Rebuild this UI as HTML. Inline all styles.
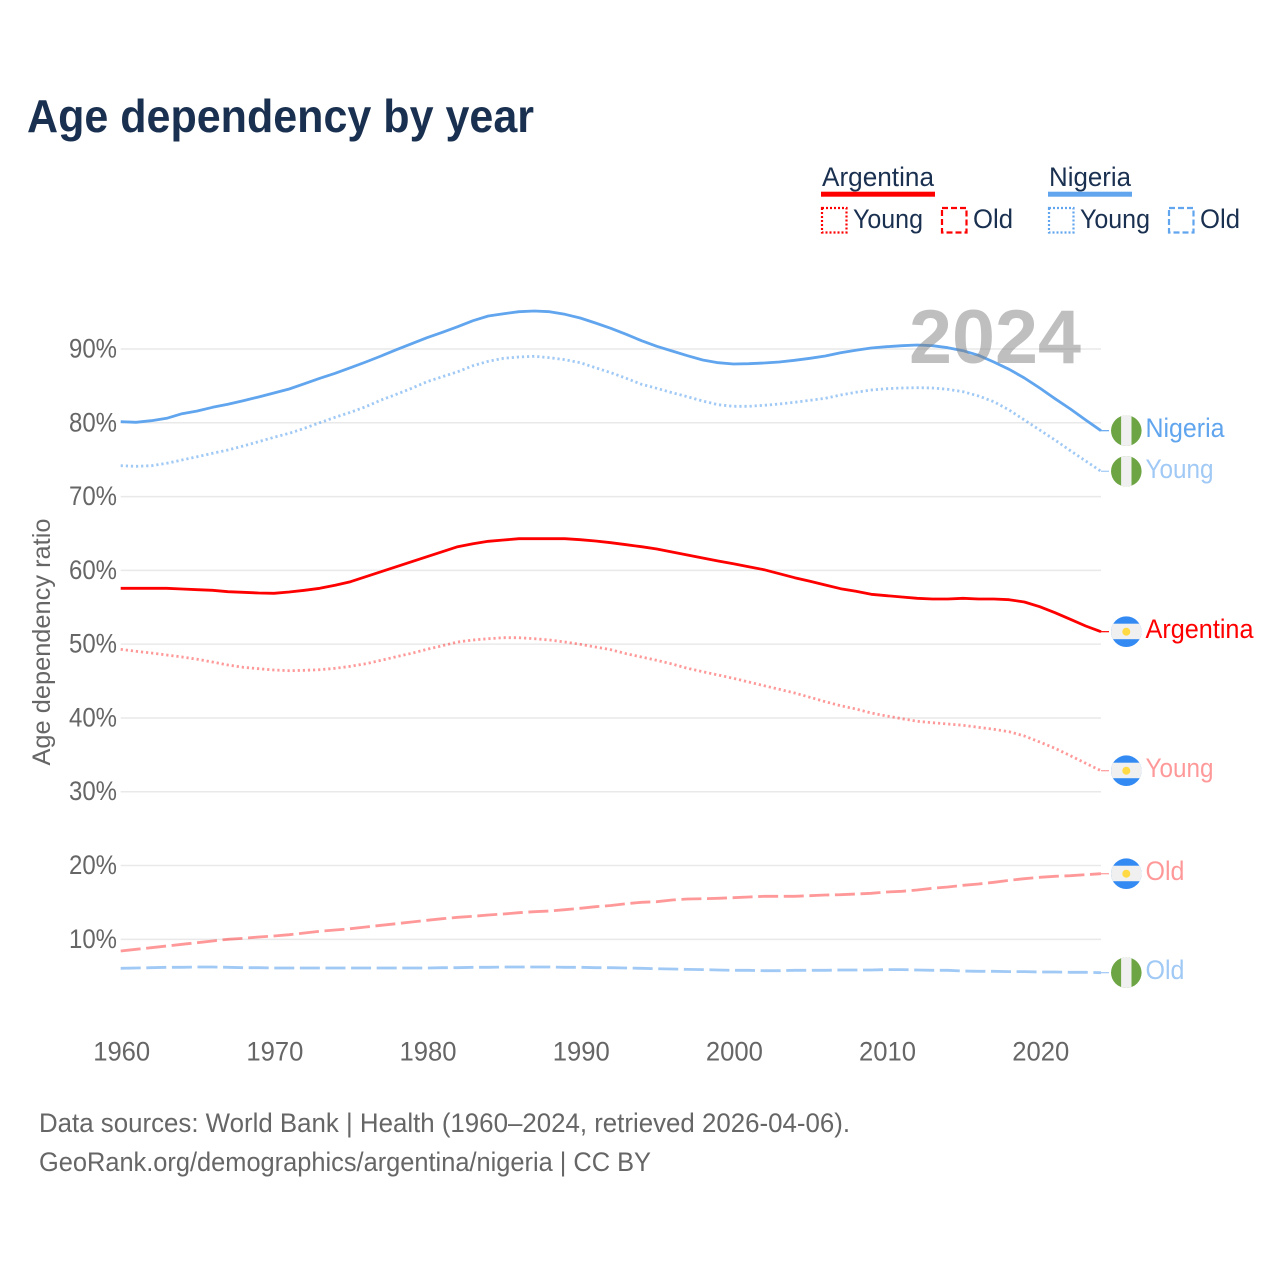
<!DOCTYPE html>
<html lang="en">
<head>
<meta charset="utf-8">
<title>Age dependency by year</title>
<style>
html,body{margin:0;padding:0;background:#fff;}
svg{display:block;}
text{font-family:"Liberation Sans",sans-serif;}
</style>
</head>
<body>
<svg id="chart" xmlns="http://www.w3.org/2000/svg" width="1280" height="1280" viewBox="0 0 1280 1280">
  <rect x="0" y="0" width="1280" height="1280" fill="#ffffff"/>
  <text x="27" y="132" font-size="46" font-weight="700" fill="#1a3050" textLength="507" lengthAdjust="spacingAndGlyphs">Age dependency by year</text>

  <g>
    <text x="822" y="186" font-size="27" fill="#1a3050" textLength="112" lengthAdjust="spacingAndGlyphs">Argentina</text>
    <rect x="821" y="191.7" width="114" height="5" fill="#ff0000"/>
    <rect x="822" y="208" width="24.5" height="24.5" fill="none" stroke="#ff0000" stroke-width="2.2" stroke-dasharray="2 2"/>
    <text x="853" y="228" font-size="27" fill="#1a3050" textLength="70" lengthAdjust="spacingAndGlyphs">Young</text>
    <rect x="942" y="208" width="24.5" height="24.5" fill="none" stroke="#ff0000" stroke-width="2.2" stroke-dasharray="6 3"/>
    <text x="973" y="228" font-size="27" fill="#1a3050" textLength="40" lengthAdjust="spacingAndGlyphs">Old</text>
    <text x="1049" y="186" font-size="27" fill="#1a3050" textLength="82" lengthAdjust="spacingAndGlyphs">Nigeria</text>
    <rect x="1048" y="191.7" width="84" height="5" fill="#60a5ee"/>
    <rect x="1049" y="208" width="24.5" height="24.5" fill="none" stroke="#60a5ee" stroke-width="2.2" stroke-dasharray="2 2"/>
    <text x="1080" y="228" font-size="27" fill="#1a3050" textLength="70" lengthAdjust="spacingAndGlyphs">Young</text>
    <rect x="1169" y="208" width="24.5" height="24.5" fill="none" stroke="#60a5ee" stroke-width="2.2" stroke-dasharray="6 3"/>
    <text x="1200" y="228" font-size="27" fill="#1a3050" textLength="40" lengthAdjust="spacingAndGlyphs">Old</text>
  </g>

  <text transform="translate(50,642) rotate(-90)" text-anchor="middle" font-size="25" fill="#666666" textLength="247" lengthAdjust="spacingAndGlyphs">Age dependency ratio</text>

  <g id="grid"></g>
  <g id="yticks"></g>
  <g id="xticks"></g>
  <g id="series"></g>

  <text x="909" y="363" font-size="76" font-weight="700" fill="#808080" fill-opacity="0.5" textLength="172" lengthAdjust="spacingAndGlyphs">2024</text>

  <g id="ends"></g>

  <text x="39" y="1132" font-size="26.5" fill="#666666" textLength="811" lengthAdjust="spacingAndGlyphs">Data sources: World Bank | Health (1960–2024, retrieved 2026-04-06).</text>
  <text x="39" y="1171" font-size="26.5" fill="#666666" textLength="612" lengthAdjust="spacingAndGlyphs">GeoRank.org/demographics/argentina/nigeria | CC BY</text>
</svg>

<script>
const startYear = 1960;
const xTickYears = [1960, 1970, 1980, 1990, 2000, 2010, 2020];
const yTickValues = [10, 20, 30, 40, 50, 60, 70, 80, 90];
const yTickLabels = ["10%", "20%", "30%", "40%", "50%", "60%", "70%", "80%", "90%"];

const nigeriaTotal = [
  80.15,80.07,80.28,80.61,81.23,81.60,82.10,82.51,82.99,83.50,
  84.04,84.58,85.30,86.03,86.71,87.47,88.24,89.05,89.91,90.72,
  91.53,92.26,93.02,93.84,94.47,94.78,95.05,95.15,95.05,94.70,
  94.20,93.52,92.81,91.99,91.12,90.37,89.73,89.09,88.51,88.14,
  87.97,88.01,88.10,88.24,88.47,88.74,89.05,89.50,89.82,90.14,
  90.31,90.45,90.54,90.45,90.18,89.77,89.15,88.24,87.25,86.07,
  84.71,83.26,81.87,80.38,78.93];
const nigeriaYoung = [
  74.18,74.10,74.18,74.51,74.96,75.40,75.87,76.31,76.85,77.44,
  78.03,78.58,79.25,80.01,80.74,81.42,82.18,83.09,83.86,84.67,
  85.57,86.25,86.92,87.74,88.33,88.74,88.92,89.01,88.82,88.55,
  88.14,87.47,86.79,86.03,85.22,84.67,84.08,83.54,82.95,82.45,
  82.23,82.23,82.37,82.55,82.78,83.05,83.32,83.77,84.13,84.44,
  84.62,84.71,84.76,84.71,84.54,84.21,83.63,82.86,81.73,80.38,
  79.02,77.67,76.22,74.82,73.43];
const nigeriaOld = [
  6.07,6.11,6.15,6.21,6.21,6.25,6.25,6.21,6.15,6.15,
  6.11,6.11,6.11,6.11,6.11,6.11,6.11,6.11,6.11,6.11,
  6.11,6.15,6.15,6.21,6.21,6.25,6.25,6.25,6.25,6.21,
  6.21,6.15,6.15,6.11,6.07,6.02,5.98,5.93,5.89,5.84,
  5.80,5.80,5.75,5.75,5.80,5.80,5.80,5.84,5.84,5.84,
  5.89,5.89,5.84,5.80,5.80,5.71,5.66,5.66,5.62,5.62,
  5.57,5.57,5.53,5.53,5.48];
const argentinaTotal = [
  57.57,57.57,57.57,57.57,57.48,57.38,57.30,57.11,57.03,56.93,
  56.89,57.07,57.30,57.57,57.98,58.46,59.14,59.82,60.50,61.17,
  61.85,62.53,63.21,63.61,63.94,64.12,64.29,64.29,64.29,64.29,
  64.16,63.98,63.75,63.48,63.21,62.90,62.49,62.08,61.68,61.27,
  60.90,60.50,60.09,59.55,59.01,58.52,58.02,57.52,57.16,56.76,
  56.57,56.39,56.22,56.12,56.12,56.22,56.12,56.12,56.03,55.71,
  55.08,54.26,53.37,52.46,51.69];
const argentinaYoung = [
  49.30,49.03,48.80,48.53,48.26,47.95,47.58,47.18,46.86,46.67,
  46.50,46.40,46.46,46.54,46.73,47.00,47.35,47.81,48.30,48.76,
  49.30,49.79,50.29,50.56,50.74,50.88,50.88,50.74,50.56,50.29,
  49.98,49.61,49.25,48.71,48.26,47.81,47.31,46.73,46.27,45.82,
  45.37,44.87,44.37,43.88,43.38,42.80,42.20,41.66,41.21,40.67,
  40.26,39.90,39.55,39.36,39.18,39.00,38.73,38.46,38.14,37.55,
  36.74,35.89,34.88,33.85,32.85];
const argentinaOld = [
  8.42,8.65,8.86,9.09,9.32,9.54,9.77,10.00,10.14,10.31,
  10.45,10.63,10.86,11.09,11.26,11.44,11.67,11.90,12.12,12.35,
  12.58,12.80,12.98,13.12,13.30,13.43,13.61,13.74,13.84,14.01,
  14.20,14.42,14.59,14.83,15.02,15.10,15.33,15.46,15.51,15.56,
  15.64,15.74,15.83,15.83,15.83,15.91,16.01,16.05,16.14,16.24,
  16.41,16.51,16.68,16.91,17.09,17.32,17.50,17.73,18.00,18.21,
  18.41,18.54,18.62,18.76,18.89];

const SVGNS = "http://www.w3.org/2000/svg";
function xScale(year) { return 120.7 + (year - 1960) * 15.317; }
function yScale(v) { return 349 + (90 - v) * 7.379; }
function make(tag, parent, attrs) {
  const el = document.createElementNS(SVGNS, tag);
  for (const k in attrs) el.setAttribute(k, attrs[k]);
  parent.appendChild(el);
  return el;
}

const gridG = document.getElementById("grid");
const yG = document.getElementById("yticks");
const xG = document.getElementById("xticks");
const seriesG = document.getElementById("series");
const endsG = document.getElementById("ends");

yTickValues.forEach(function (v, i) {
  const line = make("line", gridG, {x1: 120.7, x2: 1101, y1: yScale(v), y2: yScale(v), stroke: "#e9e9e9", "stroke-width": 1.5});
  
  
  const label = make("text", yG, {x: 69, y: yScale(v) + 8.5, "font-size": 26.5, fill: "#666666", textLength: 48, lengthAdjust: "spacingAndGlyphs"});
  
  
  label.textContent = yTickLabels[i];
});

xTickYears.forEach(function (year) {
  const label = make("text", xG, {x: xScale(year) - 27.5, y: 1060.5, "font-size": 26.5, fill: "#666666", textLength: 57, lengthAdjust: "spacingAndGlyphs"});
  
  
  label.textContent = String(year);
});

const RED = "#ff0000";
const BLUE = "#60a5ee";
const DOT = "2.2 2.9";
const DASH = "20 5.6";

function drawSeries(values, color, opacity, dash, country, labelText, labelWidth, key) {
  let pts = values.map(function (v, i) {
    return xScale(startYear + i).toFixed(1) + "," + yScale(v).toFixed(1);
  });
  const lastY = yScale(values[values.length - 1]);
  const line = make("polyline", seriesG, {points: pts.join(" "), fill: "none", stroke: color, "stroke-opacity": opacity, "stroke-width": 2.8, "stroke-linejoin": "round"});
  
  
  if (dash) line.setAttribute("stroke-dasharray", dash);

  const tail = make("line", seriesG, {x1: xScale(2024), x2: 1109, y1: lastY, y2: lastY, stroke: color, "stroke-opacity": opacity, "stroke-width": 1.2});
  
  

  const flag = make("g", endsG, {});
  
  
  const cx = 1126.3;
  const cy = lastY;
  const clipId = "clip-" + key;
  const cp = make("clipPath", flag, {id: clipId});
  make("circle", cp, {cx: cx, cy: cy, r: 15.3});
  const inner = make("g", flag, {"clip-path": "url(#" + clipId + ")"});
  if (country === "nigeria") {
    make("rect", inner, {x: cx - 16, y: cy - 16, width: 32, height: 32, fill: "#6da544"});
    make("rect", inner, {x: cx - 5.2, y: cy - 16, width: 10.4, height: 32, fill: "#f0f0f0"});
  } else {
    make("rect", inner, {x: cx - 16, y: cy - 16, width: 32, height: 32, fill: "#338af3"});
    make("rect", inner, {x: cx - 16, y: cy - 8, width: 32, height: 15.5, fill: "#f0f0f0"});
    make("circle", inner, {cx: cx, cy: cy, r: 4, fill: "#ffda44"});
  }

  const label = make("text", endsG, {x: 1145.5, y: cy + 6.5, "font-size": 26.5, fill: color, "fill-opacity": opacity, textLength: labelWidth, lengthAdjust: "spacingAndGlyphs"});
  
  
  label.textContent = labelText;
}

drawSeries(nigeriaTotal, BLUE, 1, null, "nigeria", "Nigeria", 79, "nigeria-total");
drawSeries(nigeriaYoung, BLUE, 0.6, DOT, "nigeria", "Young", 68, "nigeria-young");
drawSeries(nigeriaOld, BLUE, 0.6, DASH, "nigeria", "Old", 39, "nigeria-old");
drawSeries(argentinaTotal, RED, 1, null, "argentina", "Argentina", 108, "argentina-total");
drawSeries(argentinaYoung, RED, 0.4, DOT, "argentina", "Young", 68, "argentina-young");
drawSeries(argentinaOld, RED, 0.4, DASH, "argentina", "Old", 39, "argentina-old");
</script>
</body>
</html>
